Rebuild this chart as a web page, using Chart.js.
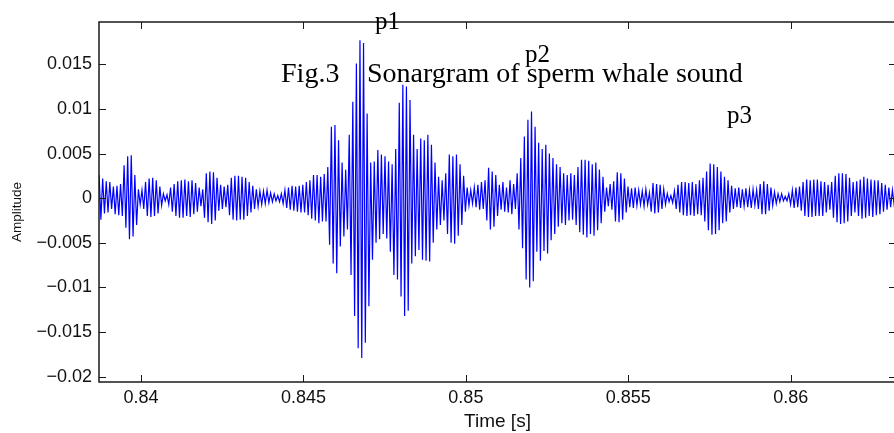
<!DOCTYPE html>
<html><head><meta charset="utf-8">
<script src="https://cdn.jsdelivr.net/npm/chart.js@4/dist/chart.umd.min.js"></script>
<style>
html,body{margin:0;padding:0;overflow:hidden;background:#fff;width:894px;height:433px}
#wrap{position:relative;width:896px;height:433px}
canvas{display:block}
</style></head>
<body><div id="wrap"><canvas id="c" width="896" height="433"></canvas></div>
<script>
const startTime = 0.83871;      // s, first sample
const sampleStep = 0.000055;    // s between samples
const amplitudeMilli = [
  2.6,-2.4,2.2,
  -1.7,1.9,-1.6,1.8,-1.2,
  1.3,-1.8,1.4,-1.9,1.6,
  -2.0,3.7,-3.3,4.7,-4.6,4.8,-4.3,2.6,-3.0,
  1.0,-0.7,0.9,-1.2,
  1.8,-2.0,2.2,-2.1,2.3,-2.0,2.0,-1.7,1.3,
  -0.8,0.5,-0.3,0.4,-0.7,
  1.2,-1.5,1.6,-2.0,1.9,-2.2,2.0,-2.2,2.1,-2.0,1.9,-2.1,2.0,-1.8,1.7,-1.5,1.2,
  -0.9,1.0,
  -2.2,2.8,-2.7,3.0,-2.9,2.9,-2.5,2.3,
  -1.4,1.5,-1.2,1.3,-1.0,1.5,-1.9,
  2.3,-2.4,2.5,-2.5,2.5,-2.4,2.4,-2.4,2.3,-2.0,1.8,-1.6,1.4,
  -1.2,1.0,-0.9,0.8,
  -0.7,0.8,-0.6,0.9,-0.5,0.6,-0.4,0.5,-0.3,0.3,-0.4,0.5,-0.6,
  0.9,-1.1,1.2,-1.3,1.4,-1.4,1.3,-1.5,1.4,-1.6,1.5,-1.6,1.8,-1.9,2.0,
  -2.3,2.6,-2.5,2.6,-2.8,2.4,-2.6,2.7,-2.6,
  3.5,-5.2,8.0,-7.3,8.2,-8.4,6.5,
  -5.4,4.0,-4.3,3.2,-3.5,7.1,-8.6,
  10.8,-13.2,15.1,-16.8,17.7,-17.9,17.4,-16.2,9.5,-12.1,4.0,
  -6.9,4.1,-5.0,5.4,-4.6,4.9,-4.0,4.7,-4.5,
  4.1,-6.0,3.8,-8.6,5.5,
  -9.1,10.7,-11.0,12.7,-13.2,12.5,-12.6,
  11.0,-7.3,7.1,-6.5,5.5,-5.8,
  6.7,-6.9,6.5,-7.0,7.1,-7.1,6.0,-5.0,4.0,
  -3.5,2.4,-3.0,2.0,-2.5,2.8,
  -4.0,4.9,-5.0,4.7,-5.1,4.9,-4.2,3.8,-3.0,2.5,
  -1.5,1.2,-0.8,0.9,-0.6,1.2,-1.0,1.5,-1.3,1.8,-1.2,2.0,
  -2.5,3.4,-3.5,3.0,-3.2,2.6,-2.0,
  1.5,-1.3,1.8,-1.5,1.2,-1.6,2.0,-1.8,1.6,-1.2,
  2.8,-3.5,4.5,-5.6,6.9,-9.1,8.8,-10.0,9.7,-9.3,8.0,
  -6.0,6.2,-7.0,5.5,-5.9,6.0,-6.2,5.0,-4.7,4.5,-4.0,3.8,-3.2,3.5,
  -2.8,2.8,-3.0,2.6,-2.5,2.8,-2.4,2.6,-3.0,
  3.5,-3.8,4.3,-4.1,4.3,-4.4,4.2,-4.0,3.8,-4.2,4.0,-3.6,3.2,-2.8,2.4,
  -1.5,1.2,-0.9,1.6,-1.3,1.9,
  -2.6,2.9,-2.7,2.8,-2.4,2.2,-1.6,
  1.3,-1.0,1.1,-1.1,1.2,-0.8,0.9,-0.7,0.8,-0.9,1.0,-0.7,0.6,
  -1.5,1.7,-1.7,1.6,-1.6,1.5,-1.2,1.0,
  -0.7,0.5,-0.4,0.3,-0.5,0.8,
  -1.2,1.5,-1.6,1.8,-1.9,1.8,-2.0,1.7,-1.9,1.8,-2.0,1.6,-1.8,2.0,-1.9,2.3,-2.6,
  3.0,-3.6,3.9,-4.1,3.8,-4.0,3.5,-3.6,3.0,-2.8,2.4,-2.6,2.0,
  -1.6,1.4,-1.2,1.1,-1.0,1.2,-1.1,1.0,-0.9,1.1,-1.0,0.9,-1.1,1.0,-0.8,0.9,
  -1.2,1.6,-1.8,1.9,-1.8,1.6,-1.4,1.2,
  -0.8,0.7,-0.6,0.5,-0.4,0.5,-0.3,0.2,-0.3,0.5,-0.7,
  0.9,-1.1,1.2,-1.0,1.3,-1.4,
  1.8,-2.0,2.1,-2.1,2.0,-2.1,2.1,-2.0,2.1,-2.0,1.9,-2.0,1.8,-1.6,1.5,-1.3,1.8,-2.2,
  2.5,-2.7,2.8,-2.9,2.8,-2.8,2.7,-2.6,2.3,-2.0,1.8,-1.6,1.9,
  -2.0,2.1,-2.3,2.4,-2.2,2.2,-2.0,2.1,-2.1,2.0,-1.9,2.0,-1.8,1.7,-1.5,1.5,-1.3,1.2,-1.0,0.9,
  -0.8,1.0,-1.2
];
const xTickValues = [0.84, 0.845, 0.85, 0.855, 0.86];
const xTickLabels = ['0.84', '0.845', '0.85', '0.855', '0.86'];
const yTickValues = [-0.02, -0.015, -0.01, -0.005, 0, 0.005, 0.01, 0.015];
const yTickLabels = ['\u22120.02', '\u22120.015', '\u22120.01', '\u22120.005', '0', '0.005', '0.01', '0.015'];
const xAxisTitle = 'Time [s]';
const yAxisTitle = 'Amplitude';
// text annotations placed in data coordinates
const peakTexts = ['p1', 'p2', 'p3'];
const peakTimes = [0.847203, 0.851821, 0.858039];
const peakAmps  = [0.01901, 0.01526, 0.00842];
const figTexts = ['Fig.3', 'Sonargram of sperm whale sound'];
const figTimes = [0.844310, 0.846957];
const figAmps  = [0.01302, 0.01302];

// ---- build chart ----
const points = amplitudeMilli.map((a, i) => ({ x: startTime + i * sampleStep, y: a / 1000 }));

const frame = {
  id: 'frame',
  afterDatasetsDraw(chart) {
    const { ctx, chartArea: a, scales: { x, y } } = chart;
    ctx.save();
    ctx.strokeStyle = '#1a1a1a';
    ctx.lineWidth = 1;
    ctx.beginPath();
    xTickValues.forEach(v => {
      const px = Math.round(x.getPixelForValue(v)) + 0.5;
      ctx.moveTo(px, a.bottom); ctx.lineTo(px, a.bottom - 7);
      ctx.moveTo(px, a.top); ctx.lineTo(px, a.top + 7);
    });
    yTickValues.forEach(v => {
      const py = Math.round(y.getPixelForValue(v)) + 0.5;
      ctx.moveTo(a.left, py); ctx.lineTo(a.left + 7, py);
      ctx.moveTo(a.right, py); ctx.lineTo(a.right - 7, py);
    });
    ctx.stroke();
    ctx.lineWidth = 1.5;
    ctx.strokeRect(a.left, a.top, a.right - a.left, a.bottom - a.top);
    ctx.fillStyle = '#000';
    ctx.textBaseline = 'alphabetic';
    ctx.textAlign = 'left';
    ctx.font = '25px "Liberation Serif", "Times New Roman", serif';
    peakTexts.forEach((t, i) => {
      ctx.fillText(t, x.getPixelForValue(peakTimes[i]), y.getPixelForValue(peakAmps[i]));
    });
    ctx.font = '28px "Liberation Serif", "Times New Roman", serif';
    figTexts.forEach((t, i) => {
      ctx.fillText(t, x.getPixelForValue(figTimes[i]), y.getPixelForValue(figAmps[i]));
    });
    // y-axis title
    ctx.fillStyle = '#111';
    ctx.font = '13.5px "Liberation Sans", Arial, sans-serif';
    ctx.textAlign = 'center';
    ctx.textBaseline = 'middle';
    ctx.translate(17, 212);
    ctx.rotate(-Math.PI / 2);
    ctx.fillText(yAxisTitle, 0, 0);
    ctx.restore();
  }
};

const sans = '"Liberation Sans", Arial, Helvetica, sans-serif';

new Chart(document.getElementById('c'), {
  type: 'line',
  data: { datasets: [{ data: points, borderColor: '#0000ff', borderWidth: 1.2, pointRadius: 0, tension: 0, fill: false }] },
  options: {
    responsive: false,
    animation: false,
    devicePixelRatio: 1,
    layout: { padding: { top: 22, right: 0, left: 0, bottom: 0 } },
    plugins: { legend: { display: false }, tooltip: { enabled: false } },
    scales: {
      x: {
        type: 'linear', min: 0.838707, max: 0.86324,
        afterBuildTicks: s => { s.ticks = xTickValues.map(v => ({ value: v })); },
        afterFit: s => { s.height = 51; },
        grid: { display: false, drawTicks: false },
        border: { display: false },
        ticks: { callback: (v, i) => xTickLabels[i], font: { family: sans, size: 18 }, color: '#111', padding: 5, maxRotation: 0, autoSkip: false },
        title: { display: true, text: xAxisTitle, font: { family: sans, size: 19 }, color: '#111', padding: { top: 0, bottom: 0 } }
      },
      y: {
        type: 'linear', min: -0.02059, max: 0.01974,
        afterBuildTicks: s => { s.ticks = yTickValues.map(v => ({ value: v })); },
        afterFit: s => { s.width = 99; },
        grid: { display: false, drawTicks: false },
        border: { display: false },
        ticks: { callback: (v, i) => yTickLabels[i], font: { family: sans, size: 18 }, color: '#111', padding: 7, autoSkip: false },
        title: { display: false, text: yAxisTitle }
      }
    }
  },
  plugins: [frame]
});
</script>
</body></html>
